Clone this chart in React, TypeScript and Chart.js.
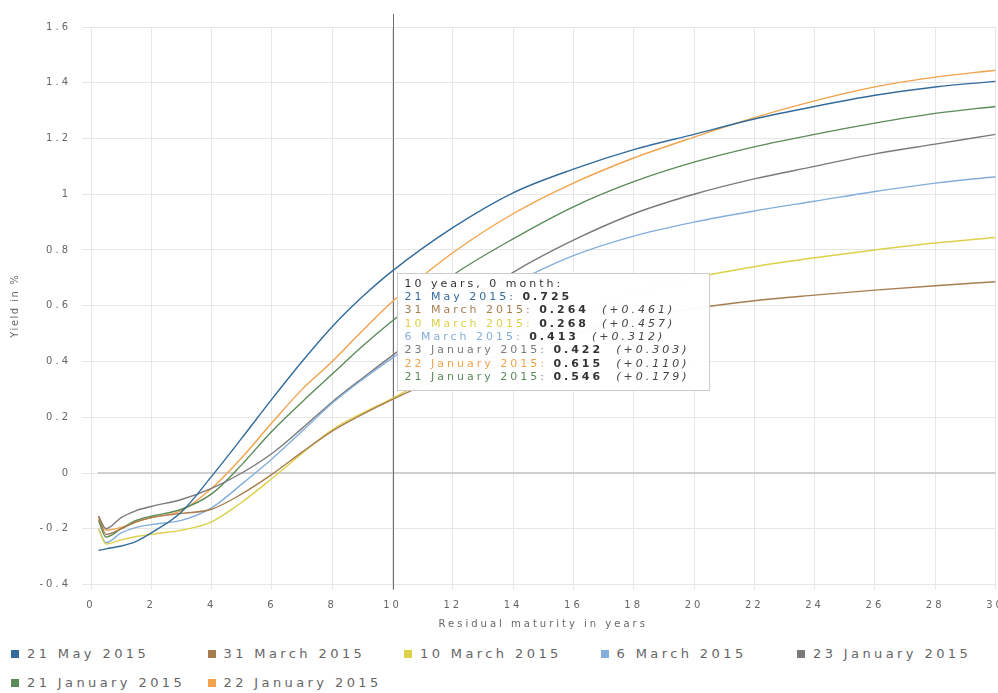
import React, { useEffect, useRef } from "react";
import { Chart, registerables } from "chart.js";

Chart.register(...registerables);

// ---------- data ----------
const maturities = [0.25, 0.5, 1, 1.5, 2, 3, 4, 5, 6, 7, 8, 9, 10, 12, 14, 16, 18, 20, 22, 24, 26, 28, 30];

const seriesNames = [
  "21 May 2015",
  "31 March 2015",
  "10 March 2015",
  "6 March 2015",
  "23 January 2015",
  "21 January 2015",
  "22 January 2015",
];

const seriesColors = ["#336c9c", "#a77d4f", "#ddd04a", "#84aedb", "#7a7a7a", "#5a8b59", "#f2a24b"];

const may21 = [-0.278, -0.272, -0.262, -0.245, -0.215, -0.14, -0.012, 0.125, 0.265, 0.4, 0.525, 0.632, 0.725, 0.88, 1.005, 1.09, 1.16, 1.215, 1.27, 1.315, 1.355, 1.385, 1.405];
const mar31 = [-0.155, -0.22, -0.2, -0.175, -0.16, -0.145, -0.13, -0.075, -0.005, 0.075, 0.15, 0.21, 0.264, 0.36, 0.44, 0.5, 0.55, 0.59, 0.618, 0.638, 0.656, 0.672, 0.686];
const mar10 = [-0.2, -0.255, -0.24, -0.228, -0.22, -0.205, -0.175, -0.105, -0.02, 0.07, 0.155, 0.215, 0.268, 0.385, 0.49, 0.575, 0.645, 0.7, 0.74, 0.772, 0.8, 0.825, 0.845];
const mar6 = [-0.2, -0.25, -0.215, -0.195, -0.185, -0.17, -0.125, -0.04, 0.05, 0.15, 0.25, 0.335, 0.413, 0.56, 0.68, 0.78, 0.85, 0.9, 0.94, 0.975, 1.01, 1.04, 1.063];
const jan23 = [-0.155, -0.2, -0.16, -0.135, -0.12, -0.095, -0.055, 0.0, 0.07, 0.16, 0.255, 0.34, 0.422, 0.58, 0.72, 0.835, 0.93, 1.0, 1.055, 1.1, 1.145, 1.18, 1.215];
const jan21 = [-0.17, -0.23, -0.2, -0.17, -0.155, -0.13, -0.075, 0.03, 0.15, 0.255, 0.355, 0.455, 0.546, 0.71, 0.84, 0.955, 1.045, 1.115, 1.17, 1.215, 1.255, 1.29, 1.315];
const jan22 = [-0.165, -0.205, -0.195, -0.175, -0.16, -0.135, -0.055, 0.055, 0.18, 0.3, 0.4, 0.51, 0.615, 0.79, 0.93, 1.04, 1.13, 1.205, 1.275, 1.335, 1.385, 1.42, 1.445];

const seriesValues = [may21, mar31, mar10, mar6, jan23, jan21, jan22];

// order of the series inside the tooltip (indices into seriesNames)
const tooltipOrder = [0, 1, 2, 3, 4, 6, 5];

const xMin = 0;
const xMax = 30;
const xStep = 2;
const yMin = -0.4;
const yMax = 1.6;
const yStep = 0.2;

const xTitle = "Residual maturity in years";
const yTitle = "Yield in %";
const crosshairMaturity = 10;

// ---------- styles ----------
const FONT = '"DejaVu Sans", Verdana, sans-serif';
const LABEL_COLOR = "#666666";
const GRID_COLOR = "#e6e6e6";

const overlayPlugin = {
  id: "overlay",
  beforeUpdate(chart: any) {
    chart.ctx.letterSpacing = "3px";
  },
  beforeDraw(chart: any) {
    chart.ctx.letterSpacing = "3px";
  },
  beforeDatasetsDraw(chart: any) {
    const { ctx, chartArea, scales } = chart;
    const xs = scales.x;
    const ys = scales.y;
    ctx.save();
    // zero line
    const y0 = Math.round(ys.getPixelForValue(0));
    ctx.strokeStyle = "#cfcfcf";
    ctx.lineWidth = 2;
    ctx.beginPath();
    ctx.moveTo(xs.getPixelForValue(maturities[0]) - 1, y0);
    ctx.lineTo(chartArea.right, y0);
    ctx.stroke();
    // crosshair
    const px = Math.round(xs.getPixelForValue(crosshairMaturity)) + 0.5;
    ctx.strokeStyle = "#6e6e6e";
    ctx.lineWidth = 1;
    ctx.beginPath();
    ctx.moveTo(px, chartArea.top - 13);
    ctx.lineTo(px, chartArea.bottom + 5);
    ctx.stroke();
    ctx.restore();
  },
  afterDraw(chart: any) {
    const { ctx, chartArea, scales } = chart;
    const xs = scales.x;
    const ys = scales.y;

    // y axis title (rotated)
    ctx.save();
    ctx.letterSpacing = "1.5px";
    ctx.font = `10px ${FONT}`;
    ctx.fillStyle = LABEL_COLOR;
    ctx.textAlign = "center";
    ctx.textBaseline = "middle";
    ctx.translate(15, (chartArea.top + chartArea.bottom) / 2);
    ctx.rotate(-Math.PI / 2);
    ctx.fillText(yTitle, 0, 0);
    ctx.restore();

    // tooltip
    const idx = maturities.indexOf(crosshairMaturity);
    if (idx < 0) return;
    const ref = seriesValues[0][idx];
    const fNorm = `11px ${FONT}`;
    const fBold = `bold 11px ${FONT}`;
    const fItal = `italic 11px ${FONT}`;
    const years = Math.floor(crosshairMaturity);
    const months = Math.round((crosshairMaturity - years) * 12);
    type Seg = { t: string; f: string; c: string };
    const lines: Seg[][] = [];
    lines.push([{ t: `${years} years, ${months} month:`, f: fNorm, c: "#333333" }]);
    tooltipOrder.forEach((i) => {
      const name = seriesNames[i];
      const v = seriesValues[i][idx];
      const segs: Seg[] = [
        { t: `${name}: `, f: fNorm, c: seriesColors[i] },
        { t: v.toFixed(3), f: fBold, c: "#333333" },
      ];
      if (i > 0) {
        const d = ref - v;
        segs.push({ t: "  ", f: fNorm, c: "#333333" });
        segs.push({ t: `(${d >= 0 ? "+" : ""}${d.toFixed(3)})`, f: fItal, c: "#444444" });
      }
      lines.push(segs);
    });

    ctx.save();
    ctx.letterSpacing = "3px";
    let maxW = 0;
    lines.forEach((segs) => {
      let w = 0;
      segs.forEach((s) => {
        ctx.font = s.f;
        w += ctx.measureText(s.t).width;
      });
      maxW = Math.max(maxW, w);
    });
    const lh = 13.3;
    const padX = 7;
    const boxX = Math.round(xs.getPixelForValue(crosshairMaturity)) + 4.5;
    const boxY = Math.round(ys.getPixelForValue(ref)) + 2.5;
    const boxW = Math.round(maxW + padX + 20);
    const boxH = Math.round(lh * (lines.length - 1) + 24);
    ctx.fillStyle = "rgba(255,255,255,0.96)";
    ctx.strokeStyle = "#cccccc";
    ctx.lineWidth = 1;
    ctx.fillRect(boxX, boxY, boxW, boxH);
    ctx.strokeRect(boxX, boxY, boxW, boxH);
    ctx.textBaseline = "middle";
    ctx.textAlign = "left";
    lines.forEach((segs, li) => {
      let x = boxX + padX;
      const y = boxY + 10.5 + li * lh;
      segs.forEach((s) => {
        ctx.font = s.f;
        ctx.fillStyle = s.c;
        ctx.fillText(s.t, x, y);
        x += ctx.measureText(s.t).width;
      });
    });
    ctx.restore();
  },
};

export default function App() {
  const canvasRef = useRef<HTMLCanvasElement | null>(null);

  useEffect(() => {
    const canvas = canvasRef.current;
    if (!canvas) return;
    const datasets = seriesNames.map((name, i) => ({
      label: name,
      data: maturities.map((m, j) => ({ x: m, y: seriesValues[i][j] })),
      borderColor: seriesColors[i],
      backgroundColor: seriesColors[i],
      borderWidth: 1.4,
      pointRadius: 0,
      tension: 0.4,
      cubicInterpolationMode: "monotone" as const,
      fill: false,
    }));

    const chart = new Chart(canvas, {
      type: "line",
      data: { datasets },
      plugins: [overlayPlugin],
      options: {
        animation: false,
        responsive: false,
        events: [],
        layout: { padding: { left: 0, right: 2.5, top: 27, bottom: 0 } },
        plugins: {
          legend: { display: false },
          tooltip: { enabled: false },
          title: { display: false },
        },
        scales: {
          x: {
            type: "linear",
            min: xMin,
            max: xMax,
            border: { display: false },
            grid: { color: GRID_COLOR, drawTicks: true, tickLength: 5, tickColor: GRID_COLOR },
            ticks: {
              stepSize: xStep,
              autoSkip: false,
              maxRotation: 0,
              padding: 10,
              color: LABEL_COLOR,
              font: { family: FONT, size: 10 },
              callback: (v: any) => String(v),
            },
            title: {
              display: true,
              text: xTitle,
              color: LABEL_COLOR,
              font: { family: FONT, size: 10 },
              padding: { top: 0, bottom: 10 },
            },
            afterFit: (scale: any) => {
              scale.height = 55.5;
              scale.paddingLeft = 0;
              scale.paddingRight = 0;
            },
          },
          y: {
            type: "linear",
            min: yMin,
            max: yMax,
            border: { display: false },
            grid: { color: GRID_COLOR, drawTicks: true, tickLength: 9, tickColor: GRID_COLOR },
            ticks: {
              stepSize: yStep,
              padding: 11,
              color: LABEL_COLOR,
              font: { family: FONT, size: 10 },
              callback: (v: any) => {
                const r = Math.round(Number(v) * 10) / 10;
                return String(r === 0 ? 0 : r);
              },
            },
            afterFit: (scale: any) => {
              scale.width = 91;
              scale.paddingTop = 0;
              scale.paddingBottom = 0;
            },
          },
        },
      },
    });
    return () => chart.destroy();
  }, []);

  const legendItems = seriesNames.map((name, i) => {
    const row = Math.floor(i / 5);
    const col = i % 5;
    return (
      <div
        key={name}
        style={{
          position: "absolute",
          left: 11 + col * 196.5,
          top: 645 + row * 29,
          height: 18,
          display: "flex",
          alignItems: "center",
          whiteSpace: "nowrap",
        }}
      >
        <span style={{ display: "inline-block", width: 8, height: 8, background: seriesColors[i] }} />
        <span
          style={{
            marginLeft: 8,
            fontFamily: FONT,
            fontSize: 13,
            letterSpacing: "3.4px",
            color: "#666666",
            lineHeight: "18px",
          }}
        >
          {name}
        </span>
      </div>
    );
  });

  return (
    <div
      style={{
        position: "absolute",
        left: 0,
        top: 0,
        width: 998,
        height: 693,
        overflow: "hidden",
        background: "#ffffff",
      }}
    >
      <canvas ref={canvasRef} width={998} height={640} style={{ display: "block", width: 998, height: 640 }} />
      {legendItems}
    </div>
  );
}
